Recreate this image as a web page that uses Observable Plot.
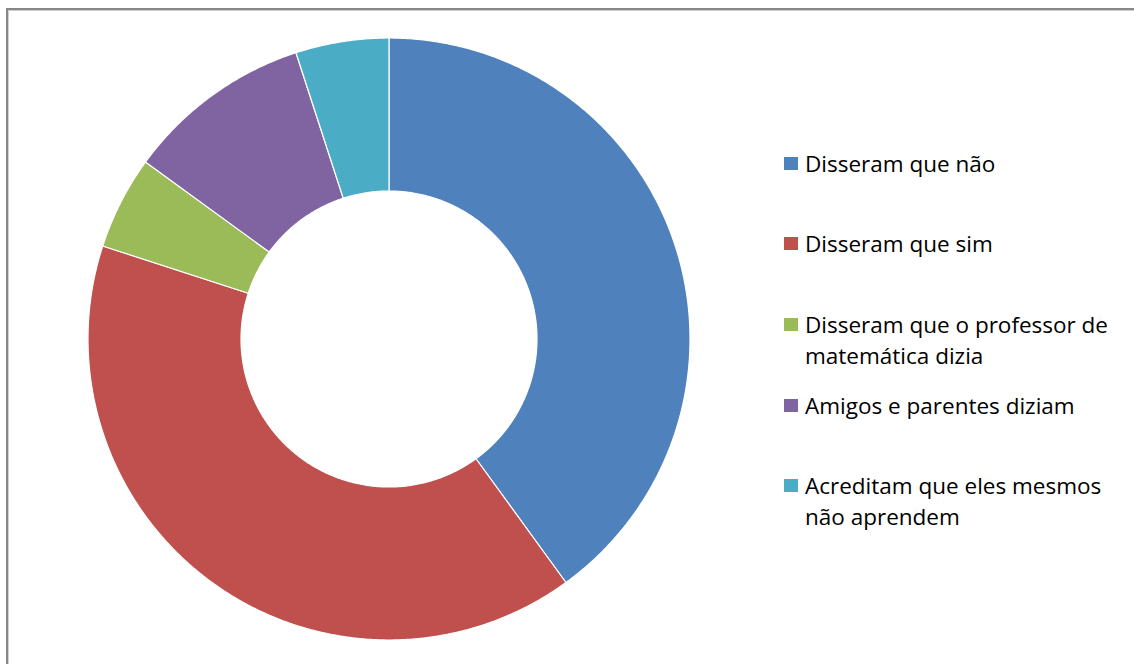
<!DOCTYPE html>
<html>
<head>
<meta charset="utf-8">
<script src="https://cdn.jsdelivr.net/npm/d3@7"></script>
<script src="https://cdn.jsdelivr.net/npm/@observablehq/plot@0.6"></script>
<style>
  html, body { margin: 0; padding: 0; background: #fff; overflow: hidden; width: 1134px; height: 664px; }
  #frame { position: absolute; left: 6px; top: 8px; width: 1200px; height: 720px; border: 2px solid #878787; box-shadow: inset 1px 1px 0 #d0d0d0; box-sizing: border-box; }
  #chart { position: absolute; left: 0; top: 0; }
  #legend { position: absolute; left: 784px; top: 0; font-family: "Open Sans", "Lato", sans-serif; font-size: 22.5px; color: #000; }
  .item { position: absolute; left: 0; width: 350px; line-height: 31px; white-space: nowrap; }
  .sw { position: absolute; left: 0; width: 14px; height: 13px; }
  .txt { position: absolute; left: 21px; }
</style>
</head>
<body>
<div id="frame"></div>
<div id="chart"></div>
<div id="legend"></div>
<script>
const categories = [
  "Disseram que não",
  "Disseram que sim",
  "Disseram que o professor de matemática dizia",
  "Amigos e parentes diziam",
  "Acreditam que eles mesmos não aprendem"
];
const legendLines = [
  ["Disseram que não"],
  ["Disseram que sim"],
  ["Disseram que o professor de", "matemática dizia"],
  ["Amigos e parentes diziam"],
  ["Acreditam que eles mesmos", "não aprendem"]
];
const values = [8, 8, 1, 2, 1];
const colors = ["#4F81BD", "#C0504D", "#9BBB59", "#8064A2", "#4BACC6"];
const innerRatio = 148 / 301;

const arcs = d3.pie().sort(null).value(d => d)(values);
const rows = [];
arcs.forEach((a, i) => {
  const n = Math.max(2, Math.ceil((a.endAngle - a.startAngle) / (Math.PI / 360)));
  for (let k = 0; k <= n; k++) {
    const t = a.startAngle + (a.endAngle - a.startAngle) * k / n;
    rows.push({
      cat: categories[i],
      xo: Math.sin(t), yo: Math.cos(t),
      xi: innerRatio * Math.sin(t), yi: innerRatio * Math.cos(t)
    });
  }
});

const chart = Plot.plot({
  width: 1134,
  height: 664,
  margin: 0,
  x: { domain: [-1, 1], range: [88, 690], axis: null },
  y: { domain: [-1, 1], range: [640, 38], axis: null },
  color: { domain: categories, range: colors },
  style: { background: "transparent" },
  marks: [
    Plot.area(rows, {
      x1: "xo", y1: "yo", x2: "xi", y2: "yi",
      z: "cat", fill: "cat",
      stroke: "white", strokeWidth: 1.2, curve: "linear"
    })
  ]
});
document.getElementById("chart").appendChild(chart);

const legend = document.getElementById("legend");
const itemTops = [163, 243, 324, 405, 485];
legendLines.forEach((lines, i) => {
  const item = document.createElement("div");
  item.className = "item";
  item.style.top = (itemTops[i] - 15.5) + "px";
  const sw = document.createElement("div");
  sw.className = "sw";
  sw.style.background = colors[i];
  sw.style.top = "9px";
  item.appendChild(sw);
  const txt = document.createElement("div");
  txt.className = "txt";
  txt.innerHTML = lines.join("<br>");
  item.appendChild(txt);
  legend.appendChild(item);
});
</script>
</body>
</html>
